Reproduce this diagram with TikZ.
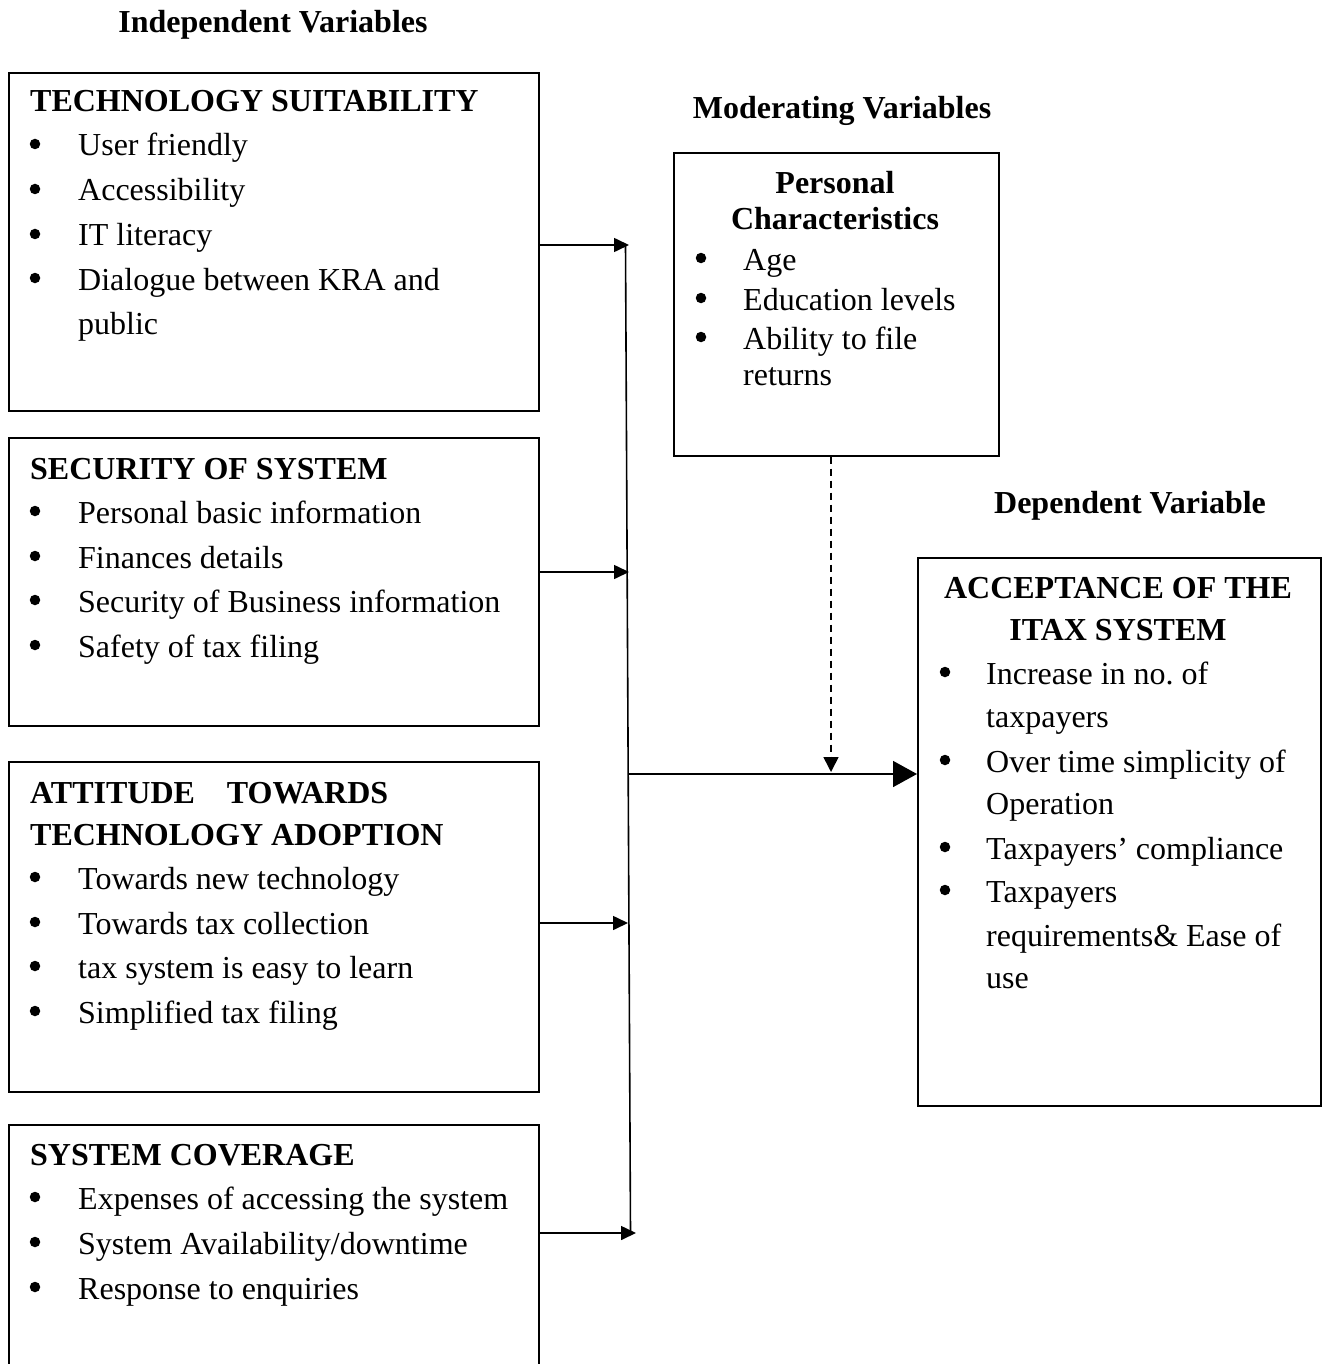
\documentclass[tikz,border=0pt]{standalone}
\usepackage{fontspec}
\setmainfont{Liberation Serif}
\usetikzlibrary{arrows.meta}
\frenchspacing
\begin{document}
\begin{tikzpicture}[x=1pt,y=-1pt,
  box/.style={draw, line width=1.6pt, rectangle, anchor=north west, inner sep=0pt},
  txt/.style={anchor=base west, inner sep=0pt, font=\fontsize{32}{38}\selectfont},
  btxt/.style={anchor=base west, inner sep=0pt, font=\fontsize{32}{38}\selectfont\bfseries},
  ctxt/.style={anchor=base, inner sep=0pt, font=\fontsize{32}{38}\selectfont\bfseries},
  bul/.style={circle, fill, inner sep=0pt, minimum size=10.5pt},
  arr/.style={line width=1.6pt, -{Triangle[length=15pt,width=14pt]}},
  bigarr/.style={line width=1.6pt, -{Triangle[length=24pt,width=26pt]}},
  dasharr/.style={line width=1.6pt, dash pattern=on 7pt off 5pt, -{Triangle[length=15pt,width=15pt]}}]
\useasboundingbox (0,0) rectangle (1324,1364);
\clip (0,0) rectangle (1324,1364);

% headers
\node[ctxt] (hind) at (273,33) {Independent Variables};
\node[ctxt] (hmod) at (842,119) {Moderating Variables};
\node[ctxt] (hdep) at (1130,513) {Dependent Variable};

% boxes
\node[box, minimum width=530pt, minimum height=338pt] (b1) at (8,72) {};
\node[box, minimum width=530pt, minimum height=288pt] (b2) at (8,437) {};
\node[box, minimum width=530pt, minimum height=330pt] (b3) at (8,761) {};
\node[box, minimum width=530pt, minimum height=300pt] (b4) at (8,1124) {};
\node[box, minimum width=325pt, minimum height=303pt] (bm) at (673,152) {};
\node[box, minimum width=403pt, minimum height=548pt] (bd) at (917,557) {};

% box 1
\node[btxt] (t1) at (30,112) {TECHNOLOGY SUITABILITY};
\node[bul] (t1b1) at (35,144) {}; \node[txt] (t1i1) at (78,156) {User friendly};
\node[bul] (t1b2) at (35,189) {}; \node[txt] (t1i2) at (78,201) {Accessibility};
\node[bul] (t1b3) at (35,234) {}; \node[txt] (t1i3) at (78,246) {IT literacy};
\node[bul] (t1b4) at (35,278) {}; \node[txt] (t1i4) at (78,290) {Dialogue between KRA and};
\node[txt] (t1i5) at (78,334) {public};

% box 2
\node[btxt] (t2) at (30,479) {SECURITY OF SYSTEM};
\node[bul] (t2b1) at (35,511) {}; \node[txt] (t2i1) at (78,523) {Personal basic information};
\node[bul] (t2b2) at (35,556) {}; \node[txt] (t2i2) at (78,568) {Finances details};
\node[bul] (t2b3) at (35,600) {}; \node[txt] (t2i3) at (78,612) {Security of Business information};
\node[bul] (t2b4) at (35,645) {}; \node[txt] (t2i4) at (78,657) {Safety of tax filing};

% box 3
\node[btxt] (t3a) at (30,803) {ATTITUDE\hspace{0.75em} TOWARDS};
\node[btxt] (t3b) at (30,845) {TECHNOLOGY ADOPTION};
\node[bul] (t3b1) at (35,877) {}; \node[txt] (t3i1) at (78,889) {Towards new technology};
\node[bul] (t3b2) at (35,922) {}; \node[txt] (t3i2) at (78,934) {Towards tax collection};
\node[bul] (t3b3) at (35,966) {}; \node[txt] (t3i3) at (78,978) {tax system is easy to learn};
\node[bul] (t3b4) at (35,1011) {}; \node[txt] (t3i4) at (78,1023) {Simplified tax filing};

% box 4
\node[btxt] (t4) at (30,1165) {SYSTEM COVERAGE};
\node[bul] (t4b1) at (35,1197) {}; \node[txt] (t4i1) at (78,1209) {Expenses of accessing the system};
\node[bul] (t4b2) at (35,1242) {}; \node[txt] (t4i2) at (78,1254) {System Availability/downtime};
\node[bul] (t4b3) at (35,1287) {}; \node[txt] (t4i3) at (78,1299) {Response to enquiries};

% moderating box
\node[ctxt] (tm1) at (835,194) {Personal};
\node[ctxt] (tm2) at (835,230) {Characteristics};
\node[bul] (tmb1) at (701,258) {}; \node[txt] (tmi1) at (743,270) {Age};
\node[bul] (tmb2) at (701,298) {}; \node[txt] (tmi2) at (743,310) {Education levels};
\node[bul] (tmb3) at (701,337) {}; \node[txt] (tmi3) at (743,349) {Ability to file};
\node[txt] (tmi4) at (743,385) {returns};

% dependent box
\node[ctxt] (td1) at (1118,598) {ACCEPTANCE OF THE};
\node[ctxt] (td2) at (1118,640) {ITAX SYSTEM};
\node[bul] (tdb1) at (945,672) {}; \node[txt] (tdi1) at (986,684) {Increase in no. of};
\node[txt] (tdi2) at (986,727) {taxpayers};
\node[bul] (tdb2) at (945,760) {}; \node[txt] (tdi3) at (986,772) {Over time simplicity of};
\node[txt] (tdi4) at (986,814) {Operation};
\node[bul] (tdb3) at (945,847) {}; \node[txt] (tdi5) at (986,859) {Taxpayers’ compliance};
\node[bul] (tdb4) at (945,890) {}; \node[txt] (tdi6) at (986,902) {Taxpayers};
\node[txt] (tdi7) at (986,946) {requirements\& Ease of};
\node[txt] (tdi8) at (986,988) {use};

% collector line
\coordinate (vtop) at (625.5,245);
\coordinate (vbot) at (630.5,1233);
\coordinate (vm) at (628.2,774);
\draw[line width=1.6pt] (vtop) -- (vbot);

% arrows from boxes
\coordinate (e1) at (629,245);
\coordinate (e2) at (629,572);
\coordinate (e3) at (628,923);
\coordinate (e4) at (636,1233);
\draw[arr] (b1.east |- e1) -- (e1);
\draw[arr] (b2.east |- e2) -- (e2);
\draw[arr] (b3.east |- e3) -- (e3);
\draw[arr] (b4.east |- e4) -- (e4);

% main arrow
\draw[bigarr] (vm) -- (bd.west |- vm);

% dashed moderating arrow
\coordinate (dm) at (831,772);
\draw[dasharr] (bm.south -| dm) -- (dm);
\end{tikzpicture}
\end{document}
